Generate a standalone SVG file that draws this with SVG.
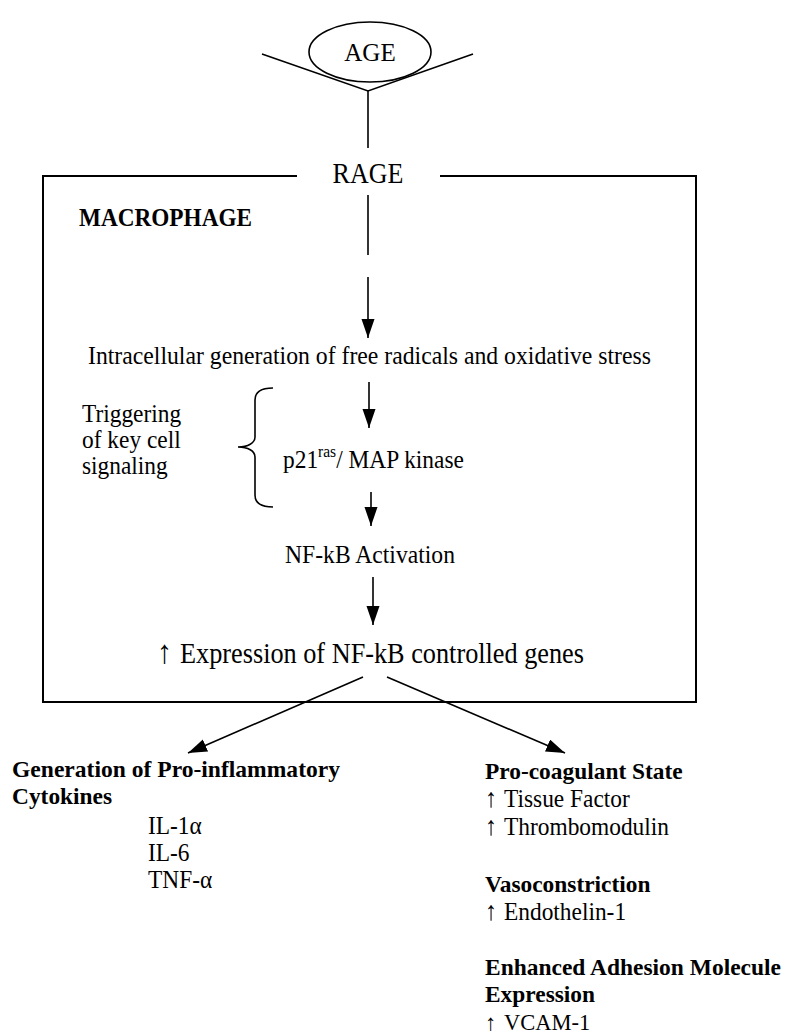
<svg xmlns="http://www.w3.org/2000/svg" width="787" height="1035" viewBox="0 0 787 1035">
<style>
text{font-family:"Liberation Serif","Times New Roman",Times,serif;fill:#000;font-weight:400}
.n{font-size:23.4px}
.b{font-size:23.4px;font-weight:700}
.up{font-size:24px}
.l{stroke:#000;stroke-width:1.6;fill:none}
.a{stroke:#000;stroke-width:1.6;fill:none;marker-end:url(#ah)}
</style>
<defs>
<marker id="ah" markerUnits="userSpaceOnUse" markerWidth="20" markerHeight="14" refX="19" refY="6.5" orient="auto" viewBox="0 0 20 14">
<path d="M0,0 L19,6.5 L0,13 z" fill="#000"/>
</marker>
</defs>
<rect width="787" height="1035" fill="#fff"/>
<g id="age">
<ellipse cx="370" cy="52" rx="61" ry="30" fill="none" stroke="#000" stroke-width="1.6"/>
<text x="370" y="61" font-size="25" text-anchor="middle">AGE</text>
</g>
<g id="receptor">
<path class="l" d="M262,54 L368,91 L473,54 M368,91 L368,148"/>
</g>
<g id="rage">
<text transform="translate(368,183) scale(1,1.1)" font-size="26" text-anchor="middle">RAGE</text>
</g>
<g id="macrophage-box">
<path class="l" d="M297,176 L43,176 L43,702 L696,702 L696,176 L440,176" style="stroke-width:2"/>
<text class="b" transform="translate(79,226) scale(1,1.05)" textLength="173" lengthAdjust="spacingAndGlyphs">MACROPHAGE</text>
</g>
<g id="free-radicals">
<text class="n" transform="translate(88,364) scale(1,1.1)" textLength="563" lengthAdjust="spacingAndGlyphs">Intracellular generation of free radicals and oxidative stress</text>
</g>
<g id="triggering">
<text class="n" transform="translate(82,422) scale(1,1.1)">Triggering</text>
<text class="n" transform="translate(82,448) scale(1,1.1)">of key cell</text>
<text class="n" transform="translate(82,474) scale(1,1.1)">signaling</text>
<path class="l" d="M273,388 C262,388 255,392 255,400 L255,437 C255,443 248,447 238,447 C248,447 255,451 255,457 L255,495 C255,503 262,507 273,507"/>
</g>
<g id="p21">
<text class="n" transform="translate(283,468) scale(1,1.1)">p21<tspan font-size="15.5" dy="-10">ras</tspan><tspan dy="10">/ MAP kinase</tspan></text>
</g>
<g id="nfkb">
<text class="n" transform="translate(285,563) scale(1,1.1)" textLength="170" lengthAdjust="spacingAndGlyphs">NF-kB Activation</text>
</g>
<g id="expression">
<text transform="translate(157,663) scale(1,1.1)" font-size="30">↑</text>
<text transform="translate(180,663) scale(1,1.1)" font-size="26" textLength="404" lengthAdjust="spacingAndGlyphs">Expression of NF-kB controlled genes</text>
</g>
<g id="cytokines">
<text class="b" x="12" y="777" textLength="328" lengthAdjust="spacingAndGlyphs">Generation of Pro-inflammatory</text>
<text class="b" x="12" y="804">Cytokines</text>
<text class="n" transform="translate(148,834) scale(1,1.1)">IL-1α</text>
<text class="n" transform="translate(148,861) scale(1,1.1)">IL-6</text>
<text class="n" transform="translate(148,888) scale(1,1.1)">TNF-α</text>
</g>
<g id="procoagulant">
<text class="b" x="485" y="779">Pro-coagulant State</text>
<text class="n" transform="translate(485,807) scale(1,1.1)"><tspan class="up">↑</tspan><tspan x="19">Tissue Factor</tspan></text>
<text class="n" transform="translate(485,835) scale(1,1.1)"><tspan class="up">↑</tspan><tspan x="19">Thrombomodulin</tspan></text>
</g>
<g id="vasoconstriction">
<text class="b" x="485" y="892">Vasoconstriction</text>
<text class="n" transform="translate(485,920) scale(1,1.1)"><tspan class="up">↑</tspan><tspan x="19">Endothelin-1</tspan></text>
</g>
<g id="adhesion">
<text class="b" x="485" y="975" textLength="296" lengthAdjust="spacingAndGlyphs">Enhanced Adhesion Molecule</text>
<text class="b" x="485" y="1002">Expression</text>
<text x="485" y="1030" font-size="22.5"><tspan>↑</tspan><tspan x="504">VCAM-1</tspan></text>
</g>
<g id="connectors">
<line class="l" x1="368" y1="195" x2="368" y2="255"/>
<line class="a" x1="368" y1="277" x2="368" y2="338"/>
<line class="a" x1="369" y1="382" x2="369" y2="428"/>
<line class="a" x1="371" y1="492" x2="371" y2="526"/>
<line class="a" x1="373" y1="577" x2="373" y2="625"/>
<line class="a" x1="363" y1="677" x2="188" y2="753"/>
<line class="a" x1="387" y1="677" x2="565" y2="753"/>
</g>
</svg>
